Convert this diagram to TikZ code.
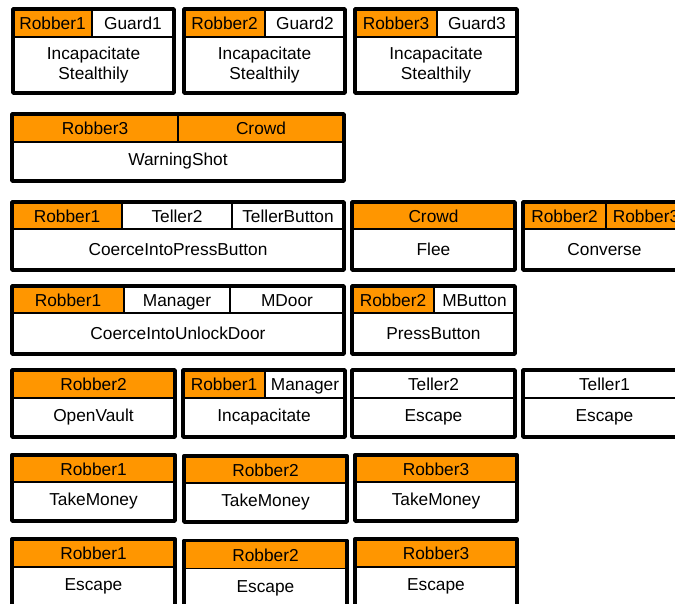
\documentclass[tikz,border=0pt]{standalone}
\usepackage{fontspec}
\setmainfont{Liberation Sans}
\usepackage{tikz}

\definecolor{robberfill}{RGB}{255,150,0}
\tikzset{
  cell/.style={draw, line width=1.2pt, inner sep=0pt, outer sep=0pt, align=center,
    font=\fontsize{17.3}{20.5}\selectfont},
  agent/.style={cell, fill=robberfill, text height=13.5pt, text depth=0pt},
  role/.style={cell, fill=white, text height=13.5pt, text depth=0pt},
  act/.style={cell, fill=white},
  boxframe/.style={line width=3.4pt, line join=round},
}

\begin{document}
\begin{tikzpicture}[x=1pt,y=-1pt]
      \useasboundingbox (0,0) rectangle (675,603);
      \clip (0,0) rectangle (675,603);
      % row 1
      \node[agent, minimum width=79, minimum height=28] (isa) at (52.5,23) {Robber1};
      \node[role, minimum width=82, minimum height=28] (isb) at (133,23) {Guard1};
      \node[act, minimum width=161, minimum height=56] (isc) at (93.5,65) {Incapacitate\\Stealthily};
      \draw[boxframe] (isa.north west) rectangle (isc.south east);
      \node[agent, minimum width=81, minimum height=28] (isd) at (224.5,23) {Robber2};
      \node[role, minimum width=80, minimum height=28] (ise) at (305,23) {Guard2};
      \node[act, minimum width=161, minimum height=56] (isf) at (264.5,65) {Incapacitate\\Stealthily};
      \draw[boxframe] (isd.north west) rectangle (isf.south east);
      \node[agent, minimum width=82, minimum height=28] (isg) at (396,23) {Robber3};
      \node[role, minimum width=80, minimum height=28] (ish) at (477,23) {Guard3};
      \node[act, minimum width=162, minimum height=56] (isi) at (436,65) {Incapacitate\\Stealthily};
      \draw[boxframe] (isg.north west) rectangle (isi.south east);
      % row 2
      \node[agent, minimum width=166, minimum height=28] (wsa) at (95,128) {Robber3};
      \node[agent, minimum width=166, minimum height=28] (wsb) at (261,128) {Crowd};
      \node[act, minimum width=332, minimum height=39] (wsc) at (178,161.5) {WarningShot};
      \draw[boxframe] (wsa.north west) rectangle (wsc.south east);
      % row 3
      \node[agent, minimum width=110, minimum height=27] (cpa) at (67,215.5) {Robber1};
      \node[role, minimum width=110, minimum height=27] (cpb) at (177,215.5) {Teller2};
      \node[role, minimum width=112, minimum height=27] (cpc) at (288,215.5) {TellerButton};
      \node[act, minimum width=332, minimum height=41] (cpd) at (178,249.5) {CoerceIntoPressButton};
      \draw[boxframe] (cpa.north west) rectangle (cpd.south east);
      \node[agent, minimum width=163, minimum height=27] (fla) at (433.5,215.5) {Crowd};
      \node[act, minimum width=163, minimum height=41] (flb) at (433.5,249.5) {Flee};
      \draw[boxframe] (fla.north west) rectangle (flb.south east);
      \node[agent, minimum width=83, minimum height=27] (cva) at (564.5,215.5) {Robber2};
      \node[agent, minimum width=80, minimum height=27] (cvb) at (646,215.5) {Robber3};
      \node[act, minimum width=163, minimum height=41] (cvc) at (604.5,249.5) {Converse};
      \draw[boxframe] (cva.north west) rectangle (cvc.south east);
      % row 4
      \node[agent, minimum width=112, minimum height=27] (cua) at (68,299.5) {Robber1};
      \node[role, minimum width=106, minimum height=27] (cub) at (177,299.5) {Manager};
      \node[role, minimum width=114, minimum height=27] (cuc) at (287,299.5) {MDoor};
      \node[act, minimum width=332, minimum height=41] (cud) at (178,333.5) {CoerceIntoUnlockDoor};
      \draw[boxframe] (cua.north west) rectangle (cud.south east);
      \node[agent, minimum width=82, minimum height=27] (pba) at (393,299.5) {Robber2};
      \node[role, minimum width=81, minimum height=27] (pbb) at (474.5,299.5) {MButton};
      \node[act, minimum width=163, minimum height=41] (pbc) at (433.5,333.5) {PressButton};
      \draw[boxframe] (pba.north west) rectangle (pbc.south east);
      % row 5
      \node[agent, minimum width=163, minimum height=28] (ova) at (93.5,384) {Robber2};
      \node[act, minimum width=163, minimum height=39] (ovb) at (93.5,417.5) {OpenVault};
      \draw[boxframe] (ova.north west) rectangle (ovb.south east);
      \node[agent, minimum width=82, minimum height=28] (ina) at (224,384) {Robber1};
      \node[role, minimum width=80, minimum height=28] (inb) at (305,384) {Manager};
      \node[act, minimum width=162, minimum height=39] (inc) at (264,417.5) {Incapacitate};
      \draw[boxframe] (ina.north west) rectangle (inc.south east);
      \node[role, minimum width=163, minimum height=28] (eta) at (433.5,384) {Teller2};
      \node[act, minimum width=163, minimum height=39] (etb) at (433.5,417.5) {Escape};
      \draw[boxframe] (eta.north west) rectangle (etb.south east);
      \node[role, minimum width=163, minimum height=28] (etc) at (604.5,384) {Teller1};
      \node[act, minimum width=163, minimum height=39] (etd) at (604.5,417.5) {Escape};
      \draw[boxframe] (etc.north west) rectangle (etd.south east);
      % row 6
      \node[agent, minimum width=163, minimum height=27] (tma) at (93.5,468.5) {Robber1};
      \node[act, minimum width=163, minimum height=39] (tmb) at (93.5,501.5) {TakeMoney};
      \draw[boxframe] (tma.north west) rectangle (tmb.south east);
      \node[agent, minimum width=163, minimum height=27] (tmc) at (265.5,469.5) {Robber2};
      \node[act, minimum width=163, minimum height=39] (tmd) at (265.5,502.5) {TakeMoney};
      \draw[boxframe] (tmc.north west) rectangle (tmd.south east);
      \node[agent, minimum width=162, minimum height=27] (tme) at (436,468.5) {Robber3};
      \node[act, minimum width=162, minimum height=39] (tmf) at (436,501.5) {TakeMoney};
      \draw[boxframe] (tme.north west) rectangle (tmf.south east);
      % row 7
      \node[agent, minimum width=163, minimum height=28] (era) at (93.5,553) {Robber1};
      \node[act, minimum width=163, minimum height=39] (erb) at (93.5,586.5) {Escape};
      \draw[boxframe] (era.north west) rectangle (erb.south east);
      \node[agent, minimum width=163, minimum height=28] (erc) at (265.5,554.5) {Robber2};
      \node[act, minimum width=163, minimum height=39] (erd) at (265.5,588) {Escape};
      \draw[boxframe] (erc.north west) rectangle (erd.south east);
      \node[agent, minimum width=162, minimum height=28] (ere) at (436,553) {Robber3};
      \node[act, minimum width=162, minimum height=39] (erf) at (436,586.5) {Escape};
      \draw[boxframe] (ere.north west) rectangle (erf.south east);
\end{tikzpicture}
\end{document}
